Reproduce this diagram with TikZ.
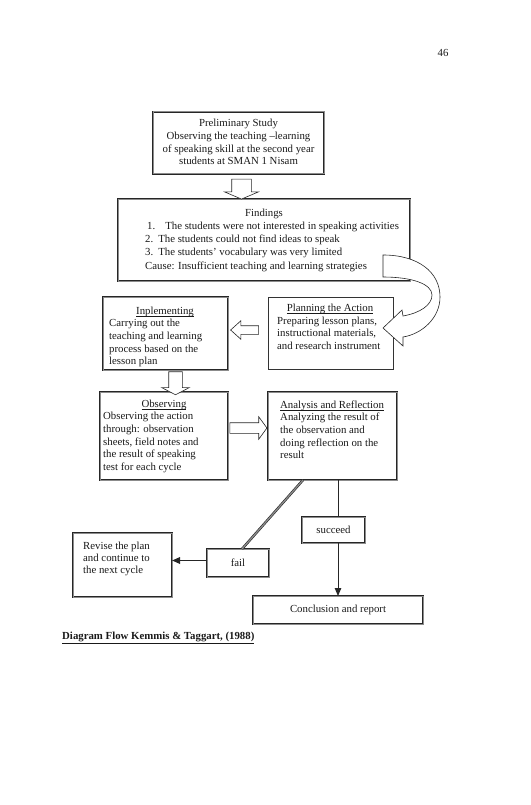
\documentclass[tikz,border=0pt]{standalone}
\usepackage{amsmath}
\usepackage{fontspec}
\setmainfont{Liberation Serif}
\usetikzlibrary{arrows.meta,positioning,shapes.arrows}
\newcommand{\boxtitle}[1]{\underline{\smash[b]{#1}}}
\tikzset{
	dbox/.style={draw=black!85,double=black!45,double distance=1pt,line width=0.55pt,inner sep=0pt,outer sep=0pt},
	sbox/.style={draw=black!80,line width=0.6pt,inner sep=0pt,outer sep=0pt},
	txt/.style={inner sep=0pt,text=black!90,font=\fontsize{10.8}{12.7}\selectfont,align=left},
	blockarrow/.style={single arrow,draw=black!85,line width=0.6pt,fill=white,inner xsep=0pt,inner ysep=#1},
	link/.style={draw=black!85,line width=1pt},
	tip/.style={-{Triangle[length=8pt,width=6.5pt]}}
}
\begin{document}
\begin{tikzpicture}[x=1pt,y=-1pt]
	\useasboundingbox (0,0) rectangle (530,805);
	\node[txt] (pagenum) at (443,53) {46};

	\node[dbox,minimum width=171pt,minimum height=62pt] (prelim) at (238.5,143) {};
	\node[txt,align=center,anchor=north] (prelimtxt) at (238.5,119) {Preliminary Study\\Observing the teaching --learning\\of speaking skill at the second year\\students at SMAN 1 Nisam};

	\node[dbox,minimum width=292pt,minimum height=82pt] (findings) at (264,240) {};
	\node[txt,anchor=base] (findingstitle) at (264,216.5) {Findings};
	\node[txt,anchor=north west,font=\fontsize{10.8}{13.3}\selectfont] (findingstxt) at (145,221.5) {\hspace*{2pt}1.\hspace{10pt}The students were not interested in speaking activities\\2.\hspace{5pt}The students could not find ideas to speak\\3.\hspace{5pt}The students' vocabulary was very limited\\Cause: Insufficient teaching and learning strategies};

	\node[dbox,minimum width=125pt,minimum height=73pt] (impl) at (165.5,333.5) {};
	\node[txt,anchor=base] (impltitle) at (165,314.5) {\boxtitle{Inplementing}};
	\node[txt,anchor=north west] (impltxt) at (109,319) {Carrying out the\\teaching and learning\\process based on the\\lesson plan};

	\node[sbox,minimum width=125pt,minimum height=72pt] (plan) at (330.5,333) {};
	\node[txt,anchor=base] (plantitle) at (330,311.5) {\boxtitle{Planning the Action}};
	\node[txt,anchor=north west] (plantxt) at (277,316.5) {Preparing lesson plans,\\instructional materials,\\and research instrument};

	\node[dbox,minimum width=128pt,minimum height=88pt] (obs) at (164,436) {};
	\node[txt,anchor=base] (obstitle) at (164,407.5) {\boxtitle{Observing}};
	\node[txt,anchor=north west] (obstxt) at (103,412) {Observing the action\\through: observation\\sheets, field notes and\\the result of speaking\\test for each cycle};

	\node[dbox,minimum width=129pt,minimum height=88pt] (anal) at (332.5,436) {};
	\node[txt,anchor=base] (analtitle) at (332,408.5) {\boxtitle{Analysis and Reflection}};
	\node[txt,anchor=north west] (analtxt) at (280,413) {Analyzing the result of\\the observation and\\doing reflection on the\\result};

	\node[dbox,minimum width=63pt,minimum height=26pt] (succ) at (333.5,530) {};
	\node[txt] (succtxt) at (333.5,530) {succeed};
	\node[dbox,minimum width=62pt,minimum height=28pt] (fail) at (238,563) {};
	\node[txt] (failtxt) at (238,563) {fail};
	\node[dbox,minimum width=99pt,minimum height=64pt] (revise) at (122.5,565) {};
	\node[txt,anchor=north west,font=\fontsize{10.8}{12}\selectfont] (revisetxt) at (83,541.5) {Revise the plan\\and continue to\\the next cycle};
	\node[dbox,minimum width=170pt,minimum height=28pt] (concl) at (338,610) {};
	\node[txt] (concltxt) at (338,610) {Conclusion and report};

	\node[txt,anchor=west,font=\fontsize{10.8}{12}\selectfont\bfseries] (caption) at (62,638) {\underline{Diagram Flow Kemmis \& Taggart, (1988)}};

	\node[blockarrow=9.5pt,rotate=-90,minimum height=20pt,single arrow head extend=7pt,single arrow tip angle=134] (arrowa) at (241.5,187) {};
	\node[blockarrow=4pt,rotate=180,minimum height=28pt,single arrow head extend=5pt,single arrow tip angle=84] (arrowb) at (247,330) {};
	\node[blockarrow=6.5pt,rotate=-90,minimum height=23pt,single arrow head extend=7pt,single arrow tip angle=125] (arrowc) at (175.5,381.5) {};
	\node[blockarrow=5pt,minimum height=37pt,single arrow head extend=6pt,single arrow tip angle=108] (arrowd) at (246.5,428) {};

	\draw[draw=black!85,line width=0.6pt,fill=white] (383,255) .. controls (418,255) and (440,272) .. (440,297)
		.. controls (440,318) and (422,334) .. (403,337) -- (403,346) -- (383,328) -- (402,310) -- (403,316)
		.. controls (420,313) and (432,305) .. (432,295) .. controls (432,284) and (412,277) .. (383,277) -- cycle;

	\draw[draw=black!85,double=black!45,double distance=1.3pt,line width=0.6pt] ([xshift=-29.5pt]anal.south) -- ([xshift=4pt]fail.north);
	\draw[link] (concl.north |- anal.south) -- (concl.north |- succ.north);
	\draw[link,tip] (concl.north |- succ.south) -- (concl.north);
	\draw[link,line width=1.6pt,tip] ([yshift=2.5pt]fail.west) -- ([yshift=2.5pt]fail.west -| revise.east);
\end{tikzpicture}
\end{document}
